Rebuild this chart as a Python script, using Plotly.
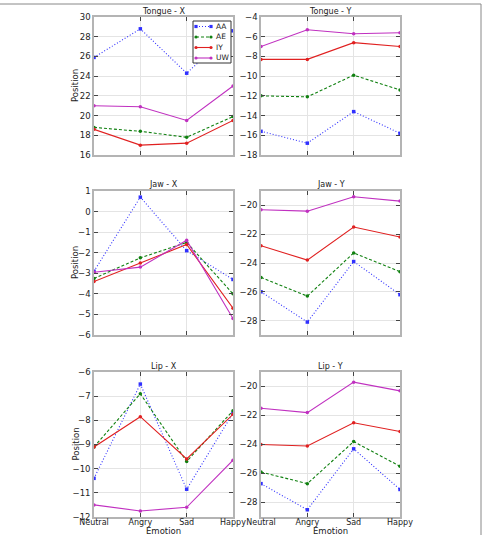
import plotly.graph_objects as go

emotions = ["Neutral", "Angry", "Sad", "Happy"]
series_names = ["AA", "AE", "IY", "UW"]

tongue_x_AA = [25.9, 28.8, 24.3, 28.6]
tongue_x_AE = [18.8, 18.4, 17.8, 19.9]
tongue_x_IY = [18.6, 17.0, 17.2, 19.5]
tongue_x_UW = [21.0, 20.9, 19.5, 23.0]

tongue_y_AA = [-15.6, -16.8, -13.6, -15.8]
tongue_y_AE = [-12.0, -12.1, -9.9, -11.4]
tongue_y_IY = [-8.3, -8.3, -6.6, -7.0]
tongue_y_UW = [-7.0, -5.3, -5.7, -5.6]

jaw_x_AA = [-2.9, 0.7, -1.9, -3.3]
jaw_x_AE = [-3.25, -2.25, -1.5, -4.0]
jaw_x_IY = [-3.4, -2.5, -1.6, -4.7]
jaw_x_UW = [-2.95, -2.7, -1.4, -5.2]

jaw_y_AA = [-26.0, -28.1, -23.9, -26.2]
jaw_y_AE = [-25.0, -26.3, -23.3, -24.6]
jaw_y_IY = [-22.8, -23.8, -21.5, -22.2]
jaw_y_UW = [-20.3, -20.4, -19.4, -19.7]

lip_x_AA = [-10.4, -6.5, -10.85, -7.7]
lip_x_AE = [-9.1, -6.9, -9.7, -7.6]
lip_x_IY = [-9.1, -7.85, -9.6, -7.75]
lip_x_UW = [-11.5, -11.75, -11.6, -9.65]

lip_y_AA = [-26.7, -28.5, -24.3, -27.1]
lip_y_AE = [-25.9, -26.7, -23.8, -25.5]
lip_y_IY = [-24.0, -24.1, -22.5, -23.1]
lip_y_UW = [-21.5, -21.8, -19.7, -20.3]

panel_titles = ["Tongue - X", "Tongue - Y", "Jaw - X", "Jaw - Y", "Lip - X", "Lip - Y"]
panel_data = [
    [tongue_x_AA, tongue_x_AE, tongue_x_IY, tongue_x_UW],
    [tongue_y_AA, tongue_y_AE, tongue_y_IY, tongue_y_UW],
    [jaw_x_AA, jaw_x_AE, jaw_x_IY, jaw_x_UW],
    [jaw_y_AA, jaw_y_AE, jaw_y_IY, jaw_y_UW],
    [lip_x_AA, lip_x_AE, lip_x_IY, lip_x_UW],
    [lip_y_AA, lip_y_AE, lip_y_IY, lip_y_UW],
]
y_ranges = [[16, 30], [-18, -4], [-6, 1], [-29, -19], [-12, -6], [-29, -19]]
y_ticks = [
    [16, 18, 20, 22, 24, 26, 28, 30],
    [-18, -16, -14, -12, -10, -8, -6, -4],
    [-6, -5, -4, -3, -2, -1, 0, 1],
    [-28, -26, -24, -22, -20],
    [-12, -11, -10, -9, -8, -7, -6],
    [-28, -26, -24, -22, -20],
]
x_title = "Emotion"
y_title = "Position"

colors = ["#3030ff", "#108010", "#e02020", "#c030c0"]
dashes = ["1px,2px", "3px,2px", "solid", "solid"]
symbols = ["square", "circle", "circle", "circle"]

W, H = 482, 535
col_px = [(94, 233), (261, 400)]
row_px = [(17, 155), (191, 335), (372, 517)]


def px(x):
    return x / W


def py(y):
    return 1 - y / H


FONT = "DejaVu Sans"
TXT = "#222"
fig = go.Figure()
layout = dict(
    width=W, height=H,
    margin=dict(l=0, r=0, t=0, b=0),
    paper_bgcolor="white", plot_bgcolor="white",
    font=dict(family=FONT, size=8, color=TXT),
    showlegend=False,
)
annotations = []
shapes = []
for p in range(6):
    r, c = divmod(p, 2)
    idx = p + 1
    xa = "xaxis" if idx == 1 else f"xaxis{idx}"
    ya = "yaxis" if idx == 1 else f"yaxis{idx}"
    xr = "x" if idx == 1 else f"x{idx}"
    yr = "y" if idx == 1 else f"y{idx}"
    x0, x1 = col_px[c]
    t0, t1 = row_px[r]
    for s in range(4):
        fig.add_trace(go.Scatter(
            x=emotions, y=panel_data[p][s], name=series_names[s],
            mode="lines+markers", xaxis=xr, yaxis=yr,
            line=dict(color=colors[s], width=1.1, dash=dashes[s]),
            marker=dict(color=colors[s], size=3.5, symbol=symbols[s]),
            cliponaxis=False,
        ))
    last_row = r == 2
    layout[xa] = dict(
        domain=[px(x0), px(x1)], anchor=yr,
        type="category", categoryorder="array", categoryarray=emotions,
        range=[0, 3], showgrid=True, gridcolor="#e4e4e4", gridwidth=1,
        showline=True, mirror="ticks", linecolor="#b4b4b4", linewidth=1.5,
        ticks="inside", ticklen=4, tickcolor="#444",
        showticklabels=last_row, tickfont=dict(size=8, color=TXT),
        ticklabelstandoff=-3,
        automargin=False, zeroline=False,
    )
    layout[ya] = dict(
        domain=[py(t1), py(t0)], anchor=xr,
        range=y_ranges[p], tickvals=y_ticks[p],
        showgrid=True, gridcolor="#e4e4e4", gridwidth=1,
        showline=True, mirror="ticks", linecolor="#b4b4b4", linewidth=1.5,
        ticks="inside", ticklen=4, tickcolor="#444",
        tickfont=dict(size=8.5, color=TXT),
        automargin=False, zeroline=False,
    )
    annotations.append(dict(
        text=panel_titles[p], x=px((x0 + x1) / 2), y=py(t0 - 6),
        xref="paper", yref="paper", xanchor="center", yanchor="middle",
        showarrow=False, font=dict(size=8, family=FONT, color=TXT),
    ))
    if last_row:
        annotations.append(dict(
            text=x_title, x=px((x0 + x1) / 2), y=py(530.5),
            xref="paper", yref="paper", xanchor="center", yanchor="middle",
            showarrow=False, font=dict(size=8.5, family=FONT, color=TXT),
        ))
    if c == 0:
        annotations.append(dict(
            text=y_title, x=px(75), y=py((t0 + t1) / 2), textangle=-90,
            xref="paper", yref="paper", xanchor="center", yanchor="middle",
            showarrow=False, font=dict(size=8.5, family=FONT, color=TXT),
        ))

# legend box (in Tongue - X panel)
lg_x0, lg_x1, lg_y0, lg_y1 = 193, 231, 21, 63
shapes.append(dict(type="rect", xref="paper", yref="paper",
                   x0=px(lg_x0), x1=px(lg_x1), y0=py(lg_y1), y1=py(lg_y0),
                   line=dict(color="#333", width=1), fillcolor="white", layer="above"))
for s in range(4):
    yc = lg_y0 + 5.5 + s * 10.5
    shapes.append(dict(type="line", xref="paper", yref="paper",
                       x0=px(196), x1=px(211), y0=py(yc), y1=py(yc), layer="above",
                       line=dict(color=colors[s], width=1.1, dash=dashes[s])))
    for mx in (196, 211):
        kind = "rect" if symbols[s] == "square" else "circle"
        shapes.append(dict(type=kind, xref="paper", yref="paper", layer="above",
                           x0=px(mx - 1.6), x1=px(mx + 1.6), y0=py(yc + 1.6), y1=py(yc - 1.6),
                           line=dict(width=0), fillcolor=colors[s]))
    annotations.append(dict(
        text=series_names[s], x=px(214), y=py(yc), xref="paper", yref="paper",
        xanchor="left", yanchor="middle", showarrow=False,
        font=dict(size=7.5, family=FONT, color=TXT),
    ))

shapes += [
    dict(type="line", xref="paper", yref="paper", x0=0, x1=px(481), y0=py(4), y1=py(4),
         line=dict(color="#888", width=1)),
    dict(type="line", xref="paper", yref="paper", x0=px(481), x1=px(481), y0=py(4), y1=0,
         line=dict(color="#888", width=1)),
]
layout["annotations"] = annotations
layout["shapes"] = shapes
fig.update_layout(**layout)
fig.write_html("out.html")
